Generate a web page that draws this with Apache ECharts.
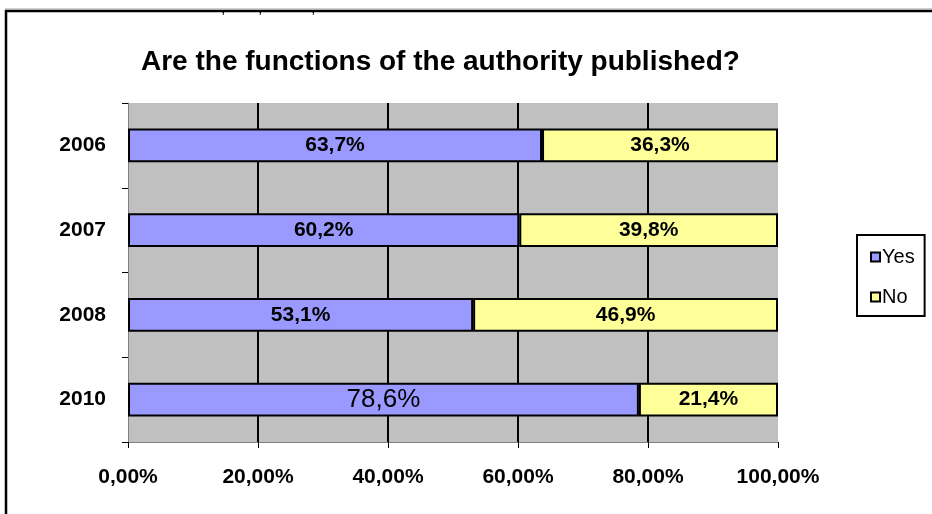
<!DOCTYPE html>
<html><head><meta charset="utf-8">
<script src="https://cdn.jsdelivr.net/npm/echarts@6/dist/echarts.min.js"></script>
<style>html,body{margin:0;padding:0;background:#fff}#c{width:932px;height:514px}</style>
</head><body><div id="c"></div>
<script>
const categories = ['2006', '2007', '2008', '2010'];
const yesValues = [63.7, 60.2, 53.1, 78.6];
const noValues = [36.3, 39.8, 46.9, 21.4];
const seriesNames = ['Yes', 'No'];
const titleText = 'Are the functions of the authority published?';

const FONT = '"Liberation Sans", Arial, sans-serif';
const fmt = v => v.toFixed(1).replace('.', ',') + '%';
const boldLabel = { show: true, position: 'inside', color: '#000', fontFamily: FONT, fontWeight: 'bold', fontSize: 21,
  formatter: p => fmt(p.value) };

const yesData = yesValues.map((v, i) => i === 3
  ? { value: v, label: { fontWeight: 'normal', fontSize: 26 } }
  : v);

const chart = echarts.init(document.getElementById('c'), null, { renderer: 'canvas' });
chart.setOption({
  animation: false,
  backgroundColor: '#fff',
  title: { text: titleText, left: 136, top: 43,
    textStyle: { fontFamily: FONT, fontWeight: 'bold', fontSize: 28, color: '#000' } },
  legend: {
    orient: 'vertical', left: 857, top: 235,
    borderColor: '#000', borderWidth: 2, padding: [11, 10, 8, 13],
    itemWidth: 9, itemHeight: 9, itemGap: 18, icon: 'rect',
    textStyle: { fontFamily: FONT, fontSize: 20, lineHeight: 22, color: '#000', padding: [0, 0, 0, -3] },
    itemStyle: { borderColor: '#000', borderWidth: 2 },
    data: seriesNames
  },
  grid: { left: 128, right: 154, top: 103, bottom: 72, show: true, backgroundColor: '#c0c0c0', borderWidth: 0 },
  xAxis: {
    type: 'value', min: 0, max: 100, interval: 20,
    axisLine: { show: true, lineStyle: { color: '#808080', width: 1 } },
    axisTick: { show: true, length: 6, lineStyle: { color: '#000' } },
    axisLabel: { margin: 25, fontFamily: FONT, fontWeight: 'bold', fontSize: 21, color: '#000',
      formatter: v => v.toFixed(2).replace('.', ',') + '%' },
    splitLine: { show: true, showMinLine: false, showMaxLine: false, lineStyle: { color: '#000', width: 2 } }
  },
  yAxis: {
    type: 'category', inverse: true, data: categories,
    axisLine: { show: true, lineStyle: { color: '#808080', width: 1 } },
    axisTick: { show: true, length: 6, lineStyle: { color: '#000' } },
    axisLabel: { margin: 22, fontFamily: FONT, fontWeight: 'bold', fontSize: 21, color: '#000' }
  },
  series: [
    { name: seriesNames[0], type: 'bar', stack: 's', data: yesData, barCategoryGap: '60%',
      itemStyle: { color: '#9999ff', borderColor: '#000', borderWidth: 2 }, label: boldLabel },
    { name: seriesNames[1], type: 'bar', stack: 's', data: noValues, barCategoryGap: '60%',
      itemStyle: { color: '#ffff99', borderColor: '#000', borderWidth: 2 }, label: boldLabel }
  ],
  graphic: [
    { type: 'rect', shape: { x: 6, y: 11, width: 1000, height: 600 }, silent: true,
      style: { fill: 'none', stroke: '#000', lineWidth: 2.5 } },
    { type: 'line', shape: { x1: 5, y1: 9, x2: 932, y2: 9 }, silent: true, style: { stroke: '#a0a0a0', lineWidth: 1 } },
    { type: 'text', x: 221, y: 1, silent: true, style: { text: ',', font: '16px ' + FONT, fill: '#000', textBaseline: 'alphabetic' } },
    { type: 'text', x: 258, y: 1, silent: true, style: { text: ',', font: '16px ' + FONT, fill: '#000', textBaseline: 'alphabetic' } },
    { type: 'text', x: 311, y: 1, silent: true, style: { text: ',', font: '16px ' + FONT, fill: '#000', textBaseline: 'alphabetic' } }
  ]
});
</script></body></html>
